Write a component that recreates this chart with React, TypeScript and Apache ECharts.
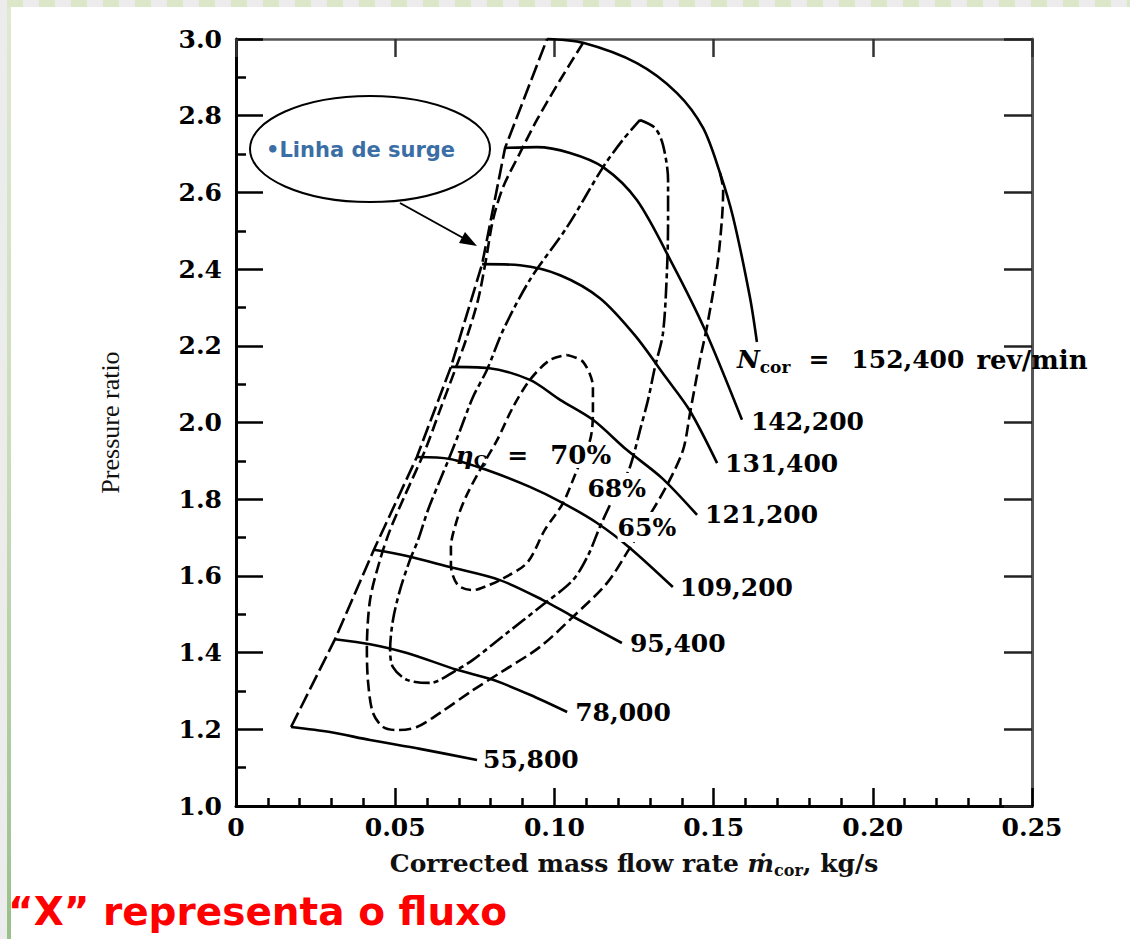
import React, { useEffect, useRef } from "react";
import * as echarts from "echarts";

// ---------- tick labels ----------
const xTickLabels = ["0", "0.05", "0.10", "0.15", "0.20", "0.25"];
const yTickLabels = ["1.0", "1.2", "1.4", "1.6", "1.8", "2.0", "2.2", "2.4", "2.6", "2.8", "3.0"];

// ---------- corrected speed lines (x = corrected mass flow kg/s, y = pressure ratio) ----------
const speedLabels = ["55,800", "78,000", "95,400", "109,200", "121,200", "131,400", "142,200", "152,400"];

const speed55800 = [[0.0173, 1.206], [0.0295, 1.193], [0.0421, 1.172], [0.0578, 1.149], [0.0757, 1.12]];
const speed78000 = [[0.0311, 1.435], [0.0421, 1.422], [0.0537, 1.399], [0.0694, 1.355], [0.0807, 1.329], [0.0923, 1.29], [0.104, 1.245]];
const speed95400 = [[0.0433, 1.668], [0.0537, 1.652], [0.0672, 1.623], [0.0829, 1.589], [0.0964, 1.537], [0.1049, 1.498], [0.1212, 1.425]];
const speed109200 = [[0.0568, 1.91], [0.0672, 1.905], [0.0788, 1.876], [0.0923, 1.832], [0.1027, 1.79], [0.1134, 1.738], [0.1237, 1.673], [0.1372, 1.571]];
const speed121200 = [[0.0675, 2.145], [0.0791, 2.142], [0.0923, 2.111], [0.1018, 2.059], [0.1121, 2.007], [0.1228, 1.928], [0.1338, 1.855], [0.1448, 1.759]];
const speed131400 = [[0.0773, 2.413], [0.0892, 2.41], [0.1018, 2.384], [0.1143, 2.324], [0.1253, 2.227], [0.1347, 2.121], [0.1426, 2.03], [0.1511, 1.894]];
const speed142200 = [[0.0845, 2.716], [0.0945, 2.718], [0.1049, 2.703], [0.1153, 2.666], [0.1259, 2.58], [0.1372, 2.411], [0.1473, 2.241], [0.1589, 2.007]];
const speed152400 = [[0.0977, 3.0], [0.109, 2.99], [0.1259, 2.937], [0.1385, 2.859], [0.1467, 2.768], [0.152, 2.651], [0.1561, 2.536], [0.1614, 2.327], [0.1636, 2.21]];

// ---------- surge line ----------
const surgeLine = [[0.0173, 1.206], [0.0311, 1.435], [0.0433, 1.668], [0.0568, 1.91], [0.0675, 2.145], [0.0773, 2.413], [0.0845, 2.716], [0.0977, 3.0]];

// ---------- efficiency contours ----------
const effLabels = ["70%", "68%", "65%"];

const eff70 = [
  [0.104, 2.176], [0.109, 2.158], [0.1121, 2.093], [0.1121, 2.025], [0.1112, 1.954], [0.1071, 1.876],
  [0.1027, 1.79], [0.097, 1.72], [0.0914, 1.634], [0.0829, 1.589], [0.0788, 1.574], [0.0744, 1.563],
  [0.0697, 1.576], [0.0675, 1.628], [0.0675, 1.675], [0.0694, 1.746], [0.0722, 1.806], [0.0766, 1.876],
  [0.082, 1.954], [0.087, 2.04], [0.0923, 2.111], [0.0986, 2.163], [0.104, 2.176],
];

const eff68 = [
  [0.1269, 2.789], [0.1316, 2.768], [0.1341, 2.724], [0.1357, 2.632], [0.1357, 2.528], [0.1354, 2.405],
  [0.1341, 2.233], [0.1316, 2.145], [0.1294, 2.059], [0.1269, 1.98], [0.1247, 1.91], [0.1231, 1.871],
  [0.119, 1.811], [0.1143, 1.728], [0.1106, 1.654], [0.1058, 1.589], [0.0955, 1.519], [0.0851, 1.451],
  [0.0744, 1.381], [0.0694, 1.355], [0.0609, 1.321], [0.0537, 1.329], [0.0493, 1.362], [0.0484, 1.407],
  [0.0493, 1.485], [0.0515, 1.563], [0.0546, 1.641], [0.0572, 1.694], [0.0603, 1.772], [0.0641, 1.85],
  [0.0663, 1.894], [0.0704, 1.98], [0.0744, 2.066], [0.0788, 2.137], [0.0839, 2.241], [0.0923, 2.372],
  [0.104, 2.51], [0.1153, 2.666], [0.1215, 2.737], [0.1269, 2.789],
];

const eff65 = [
  [0.109, 2.99], [0.1018, 2.893], [0.0945, 2.789], [0.0892, 2.703], [0.0839, 2.614], [0.0807, 2.528],
  [0.0785, 2.424], [0.076, 2.319], [0.0722, 2.215], [0.0688, 2.137], [0.0641, 2.033], [0.0594, 1.928],
  [0.0531, 1.811], [0.0484, 1.72], [0.0452, 1.641], [0.0421, 1.537], [0.0411, 1.407], [0.0415, 1.321],
  [0.043, 1.243], [0.0462, 1.206], [0.0506, 1.198], [0.0568, 1.206], [0.0641, 1.243], [0.0744, 1.302],
  [0.0829, 1.347], [0.0955, 1.415], [0.1058, 1.493], [0.1165, 1.581], [0.1237, 1.673], [0.1294, 1.751],
  [0.1354, 1.837], [0.1404, 1.928], [0.1426, 2.025], [0.1457, 2.163], [0.1479, 2.249], [0.1511, 2.405],
  [0.1526, 2.528], [0.153, 2.606], [0.152, 2.651],
];

const SERIF = "DejaVu Serif";
const tok = (extra: any = {}) => ({
  fontFamily: SERIF,
  fontWeight: "bold",
  fontSize: 25,
  color: "#000",
  lineHeight: 30,
  ...extra,
});

const speedSeries = (name: string, data: number[][], endLabel: any = {}) => ({
  type: "line",
  name,
  data,
  symbol: "none",
  showSymbol: false,
  smooth: 0.3,
  clip: false,
  silent: true,
  z: 3,
  lineStyle: { color: "#000", width: 2.6 },
  endLabel: {
    show: true,
    formatter: name,
    distance: 7,
    ...tok(),
    ...endLabel,
  },
});

const contourSeries = (name: string, data: number[][], dash: number[], markLabel?: any) => ({
  type: "line",
  name,
  data,
  symbol: "none",
  showSymbol: false,
  smooth: 0.3,
  clip: false,
  silent: true,
  z: 2,
  lineStyle: { color: "#000", width: 2.6, type: dash },
  markPoint: markLabel
    ? {
        symbol: "rect",
        symbolSize: 1,
        silent: true,
        itemStyle: { color: "rgba(0,0,0,0)" },
        label: { show: true, position: "right", distance: 0, ...tok(), ...markLabel.label },
        data: [{ coord: markLabel.coord, name }],
      }
    : undefined,
});

export default function App() {
  const ref = useRef<HTMLDivElement>(null);

  useEffect(() => {
    const chart = echarts.init(ref.current!, null, { renderer: "svg" });
    const option: any = {
      animation: false,
      backgroundColor: "transparent",
      grid: { left: 236, right: 98, top: 39, bottom: 133, outerBoundsMode: "none" },
      xAxis: [
        {
          type: "value",
          position: "bottom",
          min: 0,
          max: 0.25,
          interval: 0.05,
          axisLine: { show: true, onZero: false, lineStyle: { color: "#000", width: 3 } },
          axisTick: { show: true, inside: true, length: 18, lineStyle: { color: "#000", width: 2.5 } },
          minorTick: { show: true, splitNumber: 5, length: 8, lineStyle: { color: "#000", width: 2.5 } },
          splitLine: { show: false },
          minorSplitLine: { show: false },
          axisLabel: {
            show: true,
            margin: 6,
            showMinLabel: true,
            showMaxLabel: true,
            formatter: (v: number) => xTickLabels[Math.round(v / 0.05)],
            ...tok(),
          },
          name: "{a|Corrected mass flow rate }{m|ṁ}{s|cor}{a|, kg/s}",
          nameLocation: "middle",
          nameGap: 43,
          nameTextStyle: {
            ...tok({ fontSize: 25, color: "#111" }),
            rich: {
              a: tok({ fontSize: 25, color: "#111", lineHeight: 28 }),
              m: tok({ fontSize: 25, color: "#111", lineHeight: 28, fontStyle: "italic" }),
              s: tok({ fontSize: 16, color: "#111", lineHeight: 16, padding: [14, 0, 0, 0] }),
            },
          },
        },
        {
          type: "value",
          position: "top",
          min: 0,
          max: 0.25,
          interval: 0.05,
          axisLine: { show: true, onZero: false, lineStyle: { color: "#555", width: 2.5 } },
          axisTick: { show: true, inside: true, length: 18, lineStyle: { color: "#333", width: 2.5 } },
          axisLabel: { show: false },
          splitLine: { show: false },
        },
      ],
      yAxis: [
        {
          type: "value",
          position: "left",
          min: 1,
          max: 3,
          interval: 0.2,
          axisLine: { show: true, onZero: false, lineStyle: { color: "#000", width: 3 } },
          axisTick: { show: true, inside: true, length: 27, lineStyle: { color: "#000", width: 2.5 } },
          minorTick: { show: true, splitNumber: 2, length: 10, lineStyle: { color: "#000", width: 2.5 } },
          splitLine: { show: false },
          minorSplitLine: { show: false },
          axisLabel: {
            show: true,
            margin: 14,
            showMinLabel: true,
            showMaxLabel: true,
            formatter: (v: number) => yTickLabels[Math.round((v - 1) / 0.2)],
            ...tok(),
          },
          name: "Pressure ratio",
          nameLocation: "middle",
          nameGap: 113,
          nameTextStyle: { fontFamily: "Liberation Serif", fontSize: 26, color: "#111" },
        },
        {
          type: "value",
          position: "right",
          min: 1,
          max: 3,
          interval: 0.2,
          axisLine: { show: true, onZero: false, lineStyle: { color: "#555", width: 3 } },
          axisTick: { show: true, inside: true, length: 28, lineStyle: { color: "#222", width: 2.5 } },
          axisLabel: { show: false },
          splitLine: { show: false },
        },
      ],
      series: [
        {
          type: "line",
          name: "Linha de surge",
          data: surgeLine,
          symbol: "none",
          showSymbol: false,
          clip: false,
          silent: true,
          z: 2,
          lineStyle: { color: "#000", width: 2.6, type: [16, 5] },
        },
        contourSeries(effLabels[2], eff65, [12, 5], {
          coord: [0.1197, 1.7275],
          label: {
            formatter: effLabels[2],
            backgroundColor: "#fff",
          },
        }),
        contourSeries(effLabels[1], eff68, [16, 4, 5, 4], {
          coord: [0.1102, 1.829],
          label: {
            formatter: effLabels[1],
            backgroundColor: "#fff",
          },
        }),
        contourSeries(effLabels[0], eff70, [10, 5], {
          coord: [0.0688, 1.915],
          label: {
            formatter: "{e|η}{s|C}{t|=}{p|" + effLabels[0] + "}",
            rich: {
              e: tok({ fontStyle: "italic" }),
              s: tok({ fontSize: 17, lineHeight: 18, padding: [12, 0, 0, 0] }),
              t: tok({ padding: [0, 22, 0, 20] }),
              p: tok({ backgroundColor: "#fff", fontSize: 26 }),
            },
          },
        }),
        speedSeries(speedLabels[0], speed55800, { distance: 6 }),
        speedSeries(speedLabels[1], speed78000, { distance: 8 }),
        speedSeries(speedLabels[2], speed95400, { distance: 8 }),
        speedSeries(speedLabels[3], speed109200, { distance: 7 }),
        speedSeries(speedLabels[4], speed121200, { distance: 8 }),
        speedSeries(speedLabels[5], speed131400, { distance: 8 }),
        speedSeries(speedLabels[6], speed142200, { distance: 9, offset: [0, 2] }),
        speedSeries(speedLabels[7], speed152400, {
          formatter: "{n|N}{s|cor}{t|=}{v|" + speedLabels[7] + "}{u|rev/min}",
          distance: 0,
          offset: [-20, 18],
          rich: {
            n: tok({ fontStyle: "italic" }),
            s: tok({ fontSize: 17, lineHeight: 16, padding: [14, 0, 0, 0] }),
            t: tok({ padding: [0, 22, 0, 18] }),
            v: tok({ padding: [0, 12, 0, 0] }),
            u: tok({ fontSize: 26 }),
          },
        }),
      ],
      graphic: [
        {
          type: "ellipse",
          z: 10,
          shape: { cx: 370, cy: 149, rx: 120, ry: 53 },
          style: { fill: "#fff", stroke: "#000", lineWidth: 2 },
        },
        {
          type: "text",
          z: 11,
          x: 266,
          y: 150,
          style: {
            text: "•Linha de surge",
            fill: "#3a6ea5",
            font: 'bold 21px "DejaVu Sans"',
            verticalAlign: "middle",
            textVerticalAlign: "middle",
          },
        },
        {
          type: "line",
          z: 10,
          shape: { x1: 400, y1: 203, x2: 465, y2: 239 },
          style: { stroke: "#000", lineWidth: 2 },
        },
        {
          type: "polygon",
          z: 10,
          shape: { points: [[477, 246], [459, 243], [465, 232]] },
          style: { fill: "#000" },
        },
        {
          type: "text",
          z: 11,
          x: 8,
          y: 931,
          style: {
            text: "“X” representa o fluxo",
            fill: "#ff0000",
            font: 'bold 39px "DejaVu Sans"',
            verticalAlign: "bottom",
            textVerticalAlign: "bottom",
          },
        },
      ],
    };
    chart.setOption(option);
    return () => chart.dispose();
  }, []);

  return (
    <div
      style={{
        position: "fixed",
        left: 0,
        top: 0,
        width: 1130,
        height: 939,
        background: "#fff",
        overflow: "hidden",
      }}
    >
      <div
        style={{
          position: "absolute",
          left: 7,
          top: 0,
          width: 1123,
          height: 7,
          background: "repeating-linear-gradient(90deg, #dce6c8 0px, #dce6c8 16px, #ececec 16px, #ececec 32px)",
        }}
      />
      <div style={{ position: "absolute", left: 0, top: 0, width: 7, height: 939, background: "#ececec" }} />
      <div
        style={{
          position: "absolute",
          left: 7,
          top: 7,
          width: 4,
          height: 932,
          background: "linear-gradient(#e0e9d3, #c9dcb8 50%, #98c08a)",
        }}
      />
      <div ref={ref} style={{ position: "absolute", left: 0, top: 0, width: 1130, height: 939 }} />
    </div>
  );
}
